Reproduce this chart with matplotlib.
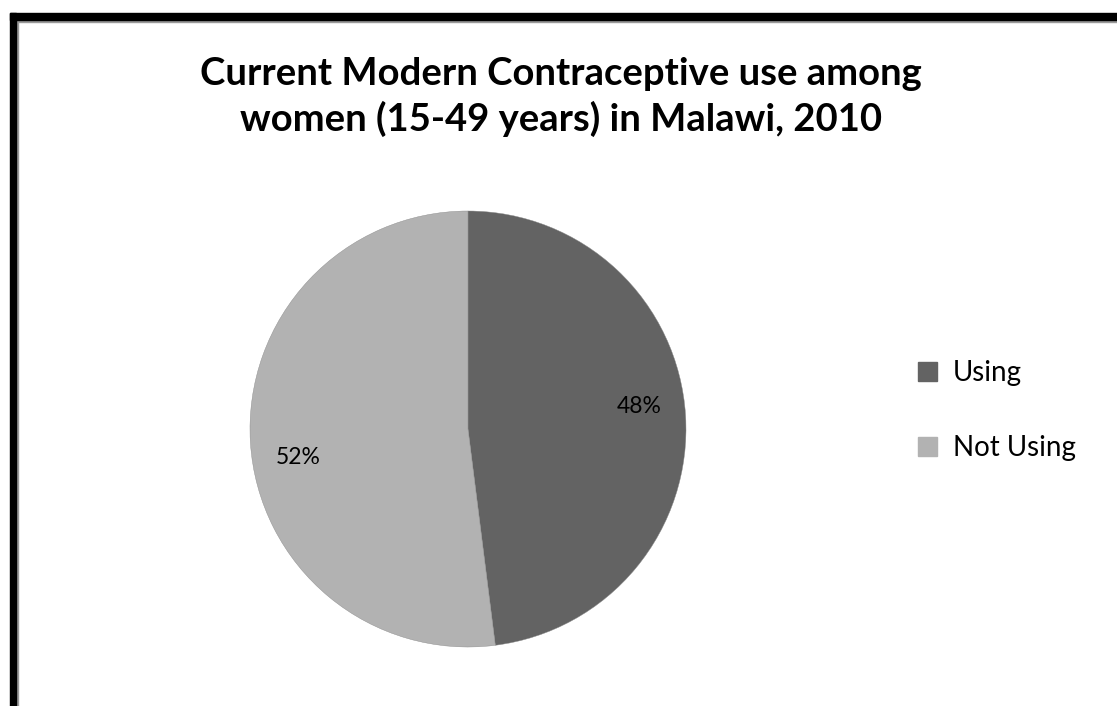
import matplotlib
matplotlib.use("Agg")
import numpy as np
import matplotlib.pyplot as plt
from matplotlib.patches import Rectangle, Patch

labels = ["Using", "Not Using"]
values = [48, 52]
colors = ["#636363", "#b2b2b2"]
title = "Current Modern Contraceptive use among\nwomen (15-49 years) in Malawi, 2010"

W, H = 1117, 706
fig = plt.figure(figsize=(W / 100, H / 100), dpi=100)
fig.patch.set_facecolor("white")

def fx(x): return x / W
def fy(y): return 1 - y / H

# frame (black band + gray inner line)
fig.patches.append(Rectangle((fx(10), 0), 6 / W, fy(13), transform=fig.transFigure, color="black", zorder=5))
fig.patches.append(Rectangle((fx(10), fy(20)), 1, 7 / H, transform=fig.transFigure, color="black", zorder=5))
fig.patches.append(Rectangle((fx(16), 0), 2 / W, fy(20), transform=fig.transFigure, color="#9a9a9a", zorder=4))
fig.patches.append(Rectangle((fx(16), fy(22)), 1, 2 / H, transform=fig.transFigure, color="#9a9a9a", zorder=4))

cx, cy, r = 468, 429, 218
ax = fig.add_axes([(cx - r) / W, (H - cy - r) / H, 2 * r / W, 2 * r / H])
wedges, texts, autotexts = ax.pie(values, colors=colors, startangle=90, counterclock=False,
                                  autopct="%1.0f%%", pctdistance=0.78, radius=1,
                                  wedgeprops=dict(linewidth=0.3, edgecolor="#8a8a8a"),
                                  textprops=dict(fontsize=16.5, family="Lato", color="black"))
# Excel-style label placement: slightly rotated from the wedge mid-angle
label_shift_deg = [4.0, 6.0]
for w, t, s in zip(wedges, autotexts, label_shift_deg):
    ang = np.deg2rad((w.theta1 + w.theta2) / 2 + s)
    t.set_position((0.79 * np.cos(ang), 0.79 * np.sin(ang)))
ax.set_xlim(-1, 1)
ax.set_ylim(-1, 1)
ax.set_aspect("equal")

fig.text(fx(561), fy(97), title, ha="center", va="center", fontsize=27.5, fontweight="bold",
         family="Lato", linespacing=1.3)

leg_handles = [Patch(facecolor=c, edgecolor=c) for c in colors]
fig.legend(leg_handles, labels, loc="center left", bbox_to_anchor=(fx(918), fy(410.5)),
           frameon=False, prop=dict(family="Lato", size=20), handlelength=0.68, handleheight=0.68,
           labelspacing=1.77, handletextpad=0.58, borderpad=0, borderaxespad=0)

fig.savefig("out.png", dpi=100, facecolor="white")
